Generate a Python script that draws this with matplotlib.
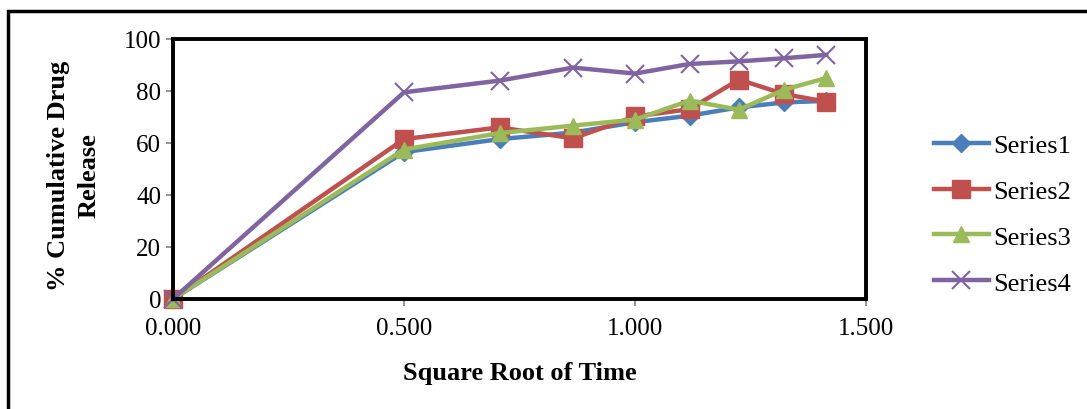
import matplotlib
matplotlib.use('Agg')
import matplotlib.pyplot as plt
from matplotlib.patches import Rectangle
from matplotlib.ticker import FormatStrFormatter

plt.rcParams['font.family'] = ['Liberation Serif', 'DejaVu Serif']

# square root of time values
sqrt_time = [0.000, 0.500, 0.707, 0.866, 1.000, 1.118, 1.225, 1.323, 1.414]

series1 = [0, 56.5, 61.5, 64.0, 68.0, 70.5, 73.7, 75.6, 76.2]
series2 = [0, 61.5, 66.0, 61.8, 70.2, 73.0, 84.4, 78.8, 75.9]
series3 = [0, 57.5, 63.8, 66.7, 69.0, 76.3, 72.8, 80.5, 85.0]
series4 = [0, 79.5, 84.0, 89.0, 86.7, 90.4, 91.4, 92.6, 93.9]

names = ['Series1', 'Series2', 'Series3', 'Series4']
colors = ['#4A7EBB', '#C0504D', '#9BBB59', '#8064A2']
markers = ['D', 's', '^', 'x']
msizes = [9, 13, 12, 13]

fig = plt.figure(figsize=(10.87, 4.10), dpi=100)
ax = fig.add_axes([173 / 1087, 1 - 300 / 410, (866 - 173) / 1087, 260 / 410])

for vals, name, c, m, ms in zip([series1, series2, series3, series4],
                                 names, colors, markers, msizes):
    kw = dict(markeredgewidth=1.5) if m == 'x' else dict(markeredgecolor=c)
    ax.plot(sqrt_time, vals, color=c, linewidth=3.2, marker=m,
            markersize=ms, label=name, clip_on=False, **kw)

ax.set_xlim(0, 1.5)
ax.set_ylim(0, 100)
ax.set_xticks([0, 0.5, 1.0, 1.5])
ax.set_yticks(range(0, 101, 20))
ax.xaxis.set_major_formatter(FormatStrFormatter('%.3f'))
ax.tick_params(labelsize=18, length=5, width=1.2, color='#808080', direction='out')
ax.tick_params(axis='x', pad=8)
for s in ax.spines.values():
    s.set_linewidth(2.8)
    s.set_color('black')

ax.set_xlabel('Square Root of Time', fontsize=19, fontweight='bold', labelpad=16)
fig.text(74 / 1087, 1 - 176 / 410, '% Cumulative Drug\nRelease', rotation=90,
         ha='center', va='center', fontsize=19, fontweight='bold',
         linespacing=1.45)

ax.legend(loc='center left', bbox_to_anchor=(923 / 1087, 1 - 215 / 410),
          bbox_transform=fig.transFigure, frameon=False, fontsize=19,
          handlelength=2.1, handletextpad=0.15, labelspacing=0.85,
          borderaxespad=0)

# outer chart border
fig.patches.append(Rectangle((8 / 1087, -0.05), 1.2, 1.05 - 12 / 410,
                             transform=fig.transFigure, fill=False,
                             edgecolor='black', linewidth=2.5))

fig.savefig('out.png', dpi=100)
